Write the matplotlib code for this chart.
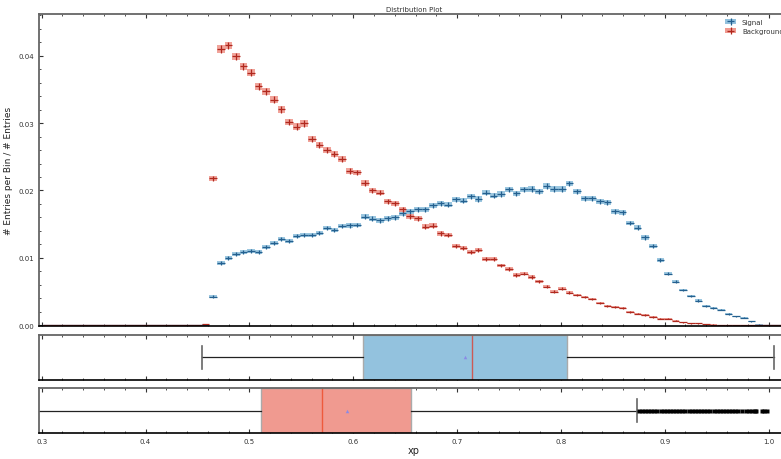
import numpy as np
import matplotlib
matplotlib.use("Agg")
import matplotlib.pyplot as plt
from matplotlib.patches import Patch
from matplotlib.legend_handler import HandlerTuple
from matplotlib.ticker import MultipleLocator, FormatStrFormatter

# histogram bins (normalised entries per bin)
bin_lo = 0.3009
bin_width = 0.0073
n_entries = 125000

signal = [0.0] * 21 + [
    0.0001, 0.00425, 0.00919, 0.00993, 0.01057, 0.01086, 0.01101, 0.01081, 0.01160, 0.01215,
    0.01284, 0.01254, 0.01323, 0.01338, 0.01338, 0.01368, 0.01442, 0.01415, 0.01472, 0.01481,
    0.01486, 0.01610, 0.01580, 0.01556, 0.01590, 0.01605, 0.01664, 0.01694, 0.01723, 0.01723,
    0.01783, 0.01807, 0.01788, 0.01871, 0.01847, 0.01916, 0.01874, 0.01970, 0.01921, 0.01946,
    0.02015, 0.01960, 0.02015, 0.02020, 0.01985, 0.02069, 0.02025, 0.02025, 0.02104, 0.01985,
    0.01886, 0.01886, 0.01842, 0.01827, 0.01689, 0.01674, 0.01516, 0.01447, 0.01304, 0.01175,
    0.00963, 0.00765, 0.00642, 0.00523, 0.00430, 0.00365, 0.00292, 0.00262, 0.00232, 0.00163,
    0.00133, 0.00109, 0.00059, 0.00008, 0.0, 0.0, 0.0]

background = [0.0] * 21 + [
    0.0002, 0.02178, 0.04104, 0.04153, 0.03990, 0.03842, 0.03748, 0.03546, 0.03472, 0.03348,
    0.03205, 0.03017, 0.02948, 0.02998, 0.02761, 0.02677, 0.02603, 0.02538, 0.02474, 0.02286,
    0.02267, 0.02108, 0.02000, 0.01970, 0.01842, 0.01807, 0.01719, 0.01620, 0.01585, 0.01462,
    0.01477, 0.01363, 0.01343, 0.01180, 0.01151, 0.01091, 0.01116, 0.00978, 0.00978, 0.00889,
    0.00834, 0.00746, 0.00765, 0.00716, 0.00652, 0.00573, 0.00499, 0.00543, 0.00484, 0.00449,
    0.00415, 0.00385, 0.00331, 0.00292, 0.00267, 0.00262, 0.00198, 0.00173, 0.00153, 0.00124,
    0.00099, 0.00094, 0.00064, 0.00044, 0.0003, 0.0003, 0.00015, 0.0001, 0.00007, 0.00005,
    0.0, 0.0, 0.0, 0.0, 0.0, 0.0, 0.0]

# box plot summaries
sig_box = dict(whislo=0.4543, q1=0.6092, med=0.7148, mean=0.7074, q3=0.8063, whishi=1.0048)
bkg_box = dict(whislo=0.2946, q1=0.5111, med=0.5701, mean=0.5938, q3=0.6554, whishi=0.8736)
bkg_fliers = [0.875, 0.878, 0.881, 0.884, 0.887, 0.890, 0.893, 0.896, 0.899, 0.902,
              0.905, 0.908, 0.911, 0.914, 0.917, 0.920, 0.923, 0.926, 0.929, 0.932,
              0.935, 0.938, 0.941, 0.944, 0.947, 0.950, 0.953, 0.956, 0.959, 0.962,
              0.965, 0.968, 0.971, 0.974, 0.9785, 0.981, 0.984, 0.987, 0.988, 0.994,
              0.9955, 0.9985]

sig_dark, sig_light = "#24608f", "#93c2de"
bkg_dark, bkg_light = "#b0281e", "#f09a90"
spine_grey = "#666666"
xlim = (0.2974, 1.0192)


def style_ax(ax):
    for s in ["left", "top", "right"]:
        ax.spines[s].set_color(spine_grey)
        ax.spines[s].set_linewidth(1.3)
    ax.spines["bottom"].set_color("black")
    ax.spines["bottom"].set_linewidth(1.2)
    ax.xaxis.set_major_locator(MultipleLocator(0.1))
    ax.xaxis.set_minor_locator(MultipleLocator(0.02))
    ax.tick_params(which="both", direction="in", top=True, right=True,
                   labelsize=5, colors="#333333")
    ax.tick_params(which="major", length=3, width=0.8)
    ax.tick_params(which="minor", length=1.5, width=0.6)
    ax.set_xlim(*xlim)


fig = plt.figure(figsize=(7.81, 4.60), dpi=100)
ax = fig.add_axes([0.0499, 0.2891, 0.9597, 0.6783])
ax_s = fig.add_axes([0.0499, 0.1717, 0.9597, 0.0989], sharex=ax)
ax_b = fig.add_axes([0.0499, 0.0565, 0.9597, 0.0978], sharex=ax)

centers = bin_lo + bin_width * (np.arange(len(signal)) + 0.5)
handles = []
for vals, dark, light, name in [(signal, sig_dark, sig_light, "Signal"),
                                (background, bkg_dark, bkg_light, "Background")]:
    v = np.array(vals)
    err = np.sqrt(v / n_entries)
    ax.bar(centers, 2 * err, bottom=v - err, width=bin_width, color=light,
           linewidth=0, alpha=0.9)
    eb = ax.errorbar(centers, v, xerr=bin_width / 2, yerr=err, fmt="none",
                     ecolor=dark, elinewidth=0.9)
    handles.append((Patch(facecolor=light, edgecolor="none"), eb))

style_ax(ax)
ax.set_ylim(-0.00012, 0.0462)
ax.yaxis.set_major_locator(MultipleLocator(0.01))
ax.yaxis.set_minor_locator(MultipleLocator(0.002))
ax.yaxis.set_major_formatter(FormatStrFormatter("%.2f"))
ax.tick_params(labelbottom=False)
ax.set_ylabel("# Entries per Bin / # Entries", fontsize=6.5, color="#222222")
ax.set_title("Distribution Plot", fontsize=5, color="#333333", pad=2)
ax.legend(handles, ["Signal", "Background"], handler_map={tuple: HandlerTuple(ndivide=1)},
          loc="upper right", frameon=False, fontsize=5, handlelength=1.6,
          borderaxespad=0.3, labelcolor="#333333")

for bax, st, fl, fc, mc in [(ax_s, sig_box, [], sig_light, "#cc5a55"),
                            (ax_b, bkg_box, bkg_fliers, bkg_light, "#ee5a3c")]:
    stats = dict(st)
    stats["fliers"] = fl
    bax.bxp([stats], positions=[1], widths=1.0, orientation="horizontal",
            patch_artist=True, showmeans=True, manage_ticks=False,
            boxprops=dict(facecolor=fc, edgecolor="#aaaaaa", linewidth=1.0),
            medianprops=dict(color=mc, linewidth=1.0),
            whiskerprops=dict(color="#222222", linewidth=0.9),
            capprops=dict(color="#666666", linewidth=1.2),
            meanprops=dict(marker="^", markerfacecolor="#8a8ae6",
                           markeredgecolor="none", markersize=2.5),
            flierprops=dict(marker="s", markerfacecolor="black",
                            markeredgecolor="none", markersize=2.4))
    style_ax(bax)
    bax.set_ylim(0.5, 1.5)
    bax.set_yticks([])
    bax.tick_params(axis="y", which="both", left=False, right=False)

ax_s.tick_params(labelbottom=False)
ax_b.set_xlabel("xp", fontsize=7, color="#222222", labelpad=1)

fig.savefig("out.png", dpi=100)
